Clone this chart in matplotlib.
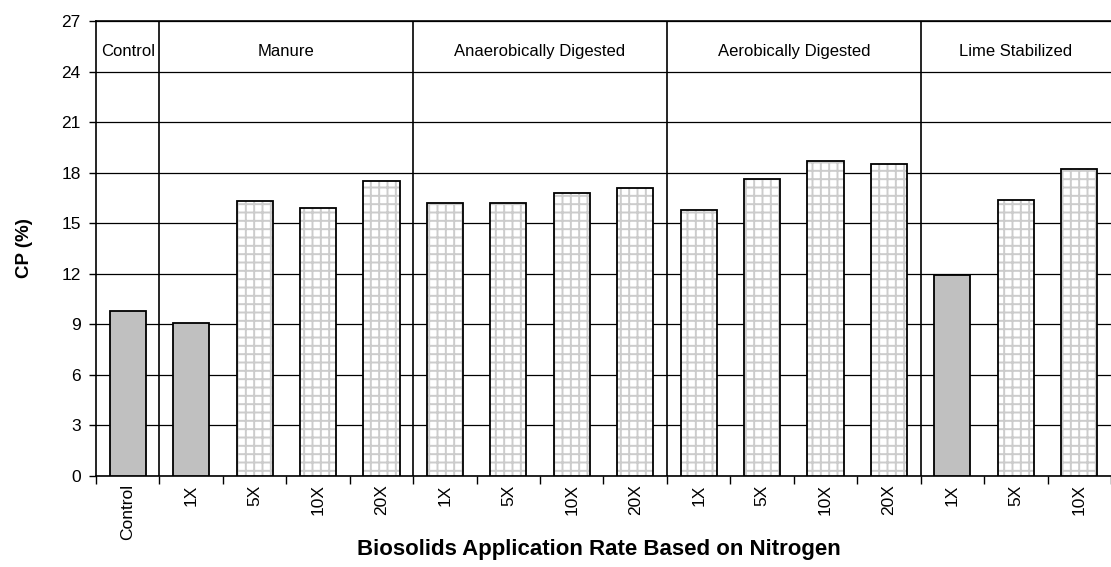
import matplotlib
matplotlib.use("Agg")
import matplotlib.pyplot as plt
import numpy as np

plt.rcParams['font.family'] = ['Liberation Sans', 'DejaVu Sans']
plt.rcParams['hatch.linewidth'] = 1.4

groups = ["Control", "Manure", "Anaerobically Digested", "Aerobically Digested", "Lime Stabilized"]
group_sizes = [1, 4, 4, 4, 3]
rate_labels = ["Control", "1X", "5X", "10X", "20X",
               "1X", "5X", "10X", "20X",
               "1X", "5X", "10X", "20X",
               "1X", "5X", "10X"]
cp_values = [9.8, 9.1, 16.3, 15.9, 17.5,
             16.2, 16.2, 16.8, 17.1,
             15.8, 17.6, 18.7, 18.5,
             11.9, 16.4, 18.2]
solid_bars = [True, True, False, False, False,
              False, False, False, False,
              False, False, False, False,
              True, False, False]

fig = plt.figure(figsize=(11.11, 5.67), dpi=100)
ax = fig.add_axes([0.0864, 0.1605, 0.9136, 0.8025])

x = np.arange(len(cp_values))
w = 0.57
for xi, v, s in zip(x, cp_values, solid_bars):
    if s:
        ax.bar(xi, v, width=w, color='#c0c0c0', edgecolor='black', linewidth=1.3, zorder=3)
    else:
        ax.bar(xi, v, width=w, color='white', edgecolor='#cccccc', linewidth=0,
               hatch='++', zorder=3)
        ax.bar(xi, v, width=w, fill=False, edgecolor='black', linewidth=1.3, zorder=3.5)

ax.set_xlim(-0.5, len(cp_values) - 0.5)
ax.set_ylim(0, 27)
ax.set_yticks(np.arange(0, 28, 3))
ax.yaxis.grid(True, color='black', linewidth=0.9, zorder=0)
ax.set_axisbelow(True)

start = 0
for i, (g, n) in enumerate(zip(groups, group_sizes)):
    if i > 0:
        ax.axvline(start - 0.5, color='black', linewidth=1.2, zorder=4)
    ax.text(start + n / 2 - 0.5, 25.2, g, ha='center', va='center', fontsize=12)
    start += n

ax.set_xticks(x)
ax.set_xticklabels(rate_labels, rotation=90, fontsize=12.5)
ax.tick_params(axis='x', length=0, pad=6)
ax.set_xticks(np.arange(-0.5, len(cp_values) + 0.5, 1), minor=True)
ax.tick_params(axis='x', which='minor', length=6, width=1, direction='out')
ax.tick_params(axis='y', length=5, width=1, direction='out', labelsize=12.5, pad=6)

for sp in ['left', 'bottom', 'top']:
    ax.spines[sp].set_linewidth(1.2)
ax.spines['right'].set_visible(False)

ax.set_ylabel("CP (%)", fontsize=13.5, fontweight='bold', labelpad=20)
fig.text(0.539, 1 - 549 / 567, "Biosolids Application Rate Based on Nitrogen",
         fontsize=16, fontweight='bold', ha='center', va='center')

fig.savefig("out.png", dpi=100)
